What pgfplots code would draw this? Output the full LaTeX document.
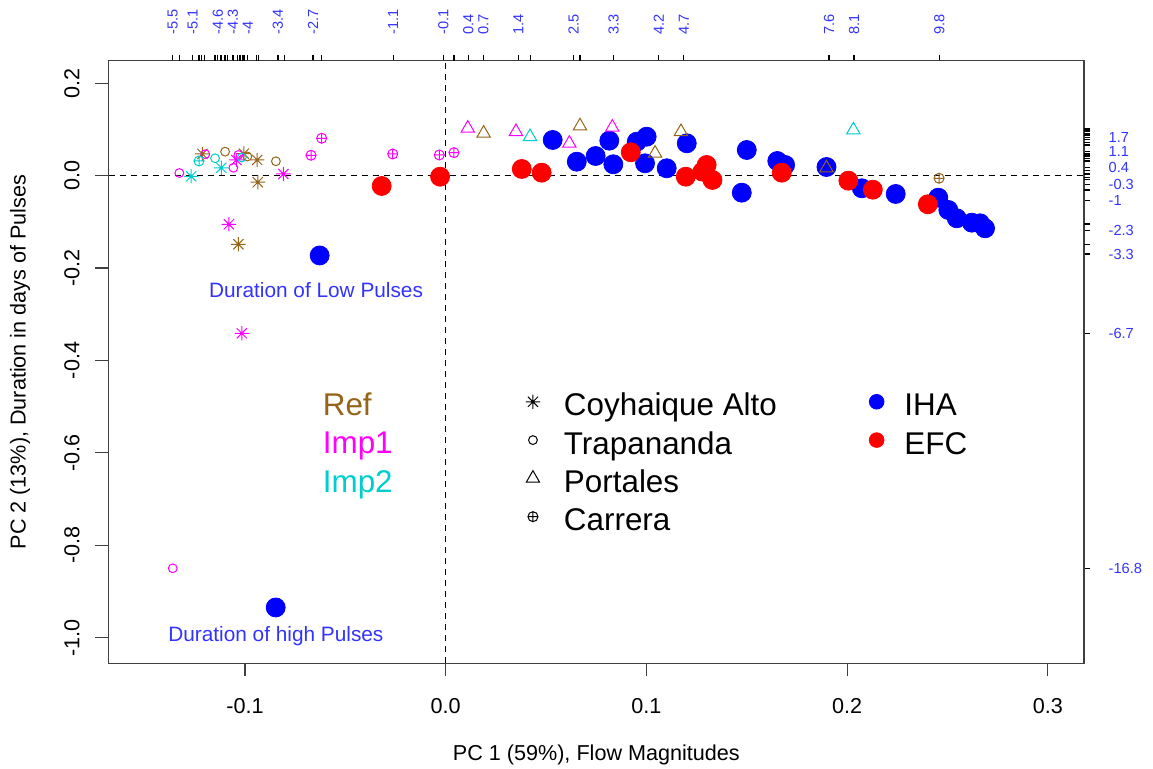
\documentclass[border=0pt]{standalone}
\usepackage{fontspec}
\setmainfont{Liberation Sans}
\usepackage{pgfplots}
\pgfplotsset{compat=1.18}

\definecolor{refc}{RGB}{150,100,25}
\definecolor{imponec}{RGB}{255,0,255}
\definecolor{imptwoc}{RGB}{0,205,205}
\definecolor{annc}{RGB}{51,51,255}
\definecolor{framec}{RGB}{64,64,64}

% asterisk made of a plus and a cross (eight arms)
\pgfdeclareplotmark{rast}{%
  \pgfpathmoveto{\pgfqpoint{-\pgfplotmarksize}{0pt}}%
  \pgfpathlineto{\pgfqpoint{\pgfplotmarksize}{0pt}}%
  \pgfpathmoveto{\pgfqpoint{0pt}{-\pgfplotmarksize}}%
  \pgfpathlineto{\pgfqpoint{0pt}{\pgfplotmarksize}}%
  \pgfpathmoveto{\pgfqpoint{-0.7071\pgfplotmarksize}{-0.7071\pgfplotmarksize}}%
  \pgfpathlineto{\pgfqpoint{0.7071\pgfplotmarksize}{0.7071\pgfplotmarksize}}%
  \pgfpathmoveto{\pgfqpoint{-0.7071\pgfplotmarksize}{0.7071\pgfplotmarksize}}%
  \pgfpathlineto{\pgfqpoint{0.7071\pgfplotmarksize}{-0.7071\pgfplotmarksize}}%
  \pgfusepathqstroke}

\pgfplotsset{
  astk/.style={only marks, mark=rast, mark size=3.6pt, line width=0.5pt, forget plot},
  circ/.style={only marks, mark=o, mark size=2.2pt, line width=0.5pt, forget plot},
  tria/.style={only marks, mark=triangle, mark size=3.85pt, line width=0.5pt, forget plot},
  cplus/.style={only marks, mark=oplus, mark size=2.5pt, line width=0.5pt, forget plot},
  dot/.style={only marks, mark=*, mark size=4.75pt, forget plot},
}

\begin{document}
\begin{tikzpicture}
\useasboundingbox (0,0) rectangle (576.5pt,384.5pt);

% ---------------- main biplot ----------------
\begin{axis}[
  at={(54.35pt,52.85pt)}, anchor=south west,
  scale only axis, width=487.65pt, height=301.3pt,
  xmin=-0.1679, xmax=0.3180, ymin=-1.0554, ymax=0.2489,
  clip=false,
  axis line style={framec, line width=0.6pt},
  xtick={-0.1,0,0.1,0.2,0.3},
  xticklabels={-0.1,0.0,0.1,0.2,0.3},
  ytick={-1,-0.8,-0.6,-0.4,-0.2,0,0.2},
  yticklabels={-1.0,-0.8,-0.6,-0.4,-0.2,0.0,0.2},
  xtick pos=bottom, ytick pos=left,
  tick align=outside, major tick length=6.6pt,
  tick style={framec, line width=0.6pt},
  tick label style={font=\fontsize{10.8}{13}\selectfont, inner sep=0pt},
  xticklabel style={anchor=north}, xticklabel shift=10.9pt,
  yticklabel style={rotate=90, anchor=south}, yticklabel shift=7.75pt,
  xlabel={PC 1 (59\%), Flow Magnitudes},
  ylabel={PC 2 (13\%), Duration in days of Pulses},
  label style={font=\fontsize{10.8}{13}\selectfont},
  xlabel style={at={(axis description cs:0.5,-0.1527)}, anchor=center},
  ylabel style={at={(axis description cs:-0.0909,0.5)}, anchor=center},
  legend style={at={(axis description cs:0.4268,0.4572)}, anchor=north west,
    draw=none, fill=none, inner sep=0pt, outer sep=0pt,
    font=\fontsize{15.7}{19}\selectfont, row sep=5.15pt, column sep=0pt,
    nodes={inner sep=0pt, text height=14pt, text depth=0pt}},
  legend cell align=left,
  legend image code/.code={\path[draw=none, fill=none] (-4pt,-1pt) rectangle (15.5pt,1pt);
    \draw[#1] plot coordinates {(0pt,0pt)};},
]

% IHA variables
\addplot[dot, blue] coordinates {
  (-0.0628,-0.1727) (-0.0847,-0.9346)
  (0.0533,0.0773) (0.0653,0.0303) (0.0747,0.0426) (0.0815,0.0758)
  (0.0835,0.0247) (0.0952,0.0736) (0.1001,0.0844) (0.0993,0.0268)
  (0.1101,0.0160) (0.1201,0.0701) (0.1500,0.0556) (0.1475,-0.0368)
  (0.1652,0.0318) (0.1691,0.0232) (0.1897,0.0188) (0.2073,-0.0273)
  (0.2242,-0.0396) (0.2454,-0.0476) (0.2504,-0.0742) (0.2546,-0.0922)
  (0.2621,-0.1017) (0.2662,-0.1030) (0.2687,-0.1139)
};
% EFC variables
\addplot[dot, red] coordinates {
  (-0.0319,-0.0223) (-0.0028,-0.0022) (0.0379,0.0145) (0.0478,0.0065)
  (0.0922,0.0506) (0.1196,-0.0022) (0.1300,0.0232) (0.1279,0.0087)
  (0.1329,-0.0093) (0.1674,0.0065) (0.2006,-0.0108) (0.2128,-0.0303)
  (0.2402,-0.0619)
};

% Ref scenario
\addplot[astk, refc] coordinates {
  (-0.1212,0.0470) (-0.1006,0.0476) (-0.0939,0.0340) (-0.0936,-0.0141)
  (-0.1033,-0.1485)};
\addplot[circ, refc] coordinates {
  (-0.1099,0.0519) (-0.0988,0.0416) (-0.0846,0.0312)};
\addplot[tria, refc] coordinates {
  (0.0189,0.0918) (0.0669,0.1076) (0.1043,0.0485) (0.1172,0.0952)
  (0.1897,0.0167)};
\addplot[cplus, refc] coordinates {(0.2458,-0.0056)};

% Imp1 scenario
\addplot[astk, imponec] coordinates {
  (-0.1043,0.0340) (-0.0809,0.0037) (-0.1080,-0.1052) (-0.1016,-0.3411)};
\addplot[circ, imponec] coordinates {
  (-0.1327,0.0058) (-0.1198,0.0465) (-0.1058,0.0171) (-0.1033,0.0448)
  (-0.1360,-0.8498)};
\addplot[tria, imponec] coordinates {
  (0.0110,0.1026) (0.0350,0.0952) (0.0616,0.0701) (0.0830,0.1048)};
\addplot[cplus, imponec] coordinates {
  (-0.0671,0.0442) (-0.0618,0.0810) (-0.0264,0.0470) (-0.0032,0.0448)
  (0.0041,0.0498)};

% Imp2 scenario
\addplot[astk, imptwoc] coordinates {(-0.1268,-0.0013) (-0.1118,0.0171)};
\addplot[circ, imptwoc] coordinates {(-0.1149,0.0377) (-0.1016,0.0394)};
\addplot[tria, imptwoc] coordinates {(0.0420,0.0844) (0.2031,0.0989)};
\addplot[cplus, imptwoc] coordinates {(-0.1229,0.0318)};

% reference lines through the origin
\addplot[black, line width=0.55pt, dash pattern=on 3.3pt off 2.2pt, forget plot]
  coordinates {(0,-1.0554) (0,0.2489)};
\addplot[black, line width=0.55pt, dash pattern=on 3.3pt off 2.2pt, forget plot]
  coordinates {(-0.1679,0) (0.3180,0)};

% site legend
\addlegendimage{only marks, mark=rast, mark size=3.6pt, line width=0.5pt, black}
\addlegendentry{Coyhaique Alto}
\addlegendimage{only marks, mark=o, mark size=2.2pt, line width=0.5pt, black}
\addlegendentry{Trapananda}
\addlegendimage{only marks, mark=triangle, mark size=3.85pt, line width=0.5pt, black}
\addlegendentry{Portales}
\addlegendimage{only marks, mark=oplus, mark size=2.5pt, line width=0.5pt, black}
\addlegendentry{Carrera}

% scenario names
\node[anchor=base west, text=refc, font=\fontsize{15.7}{19}\selectfont, inner sep=0pt]
  at (axis cs:-0.0614,-0.5197) {Ref};
\node[anchor=base west, text=imponec, font=\fontsize{15.7}{19}\selectfont, inner sep=0pt]
  at (axis cs:-0.0614,-0.6024) {Imp1};
\node[anchor=base west, text=imptwoc, font=\fontsize{15.7}{19}\selectfont, inner sep=0pt]
  at (axis cs:-0.0614,-0.6853) {Imp2};

% variable annotations
\node[anchor=base, text=annc, font=\fontsize{10.4}{12}\selectfont, inner sep=0pt]
  at (axis cs:-0.0646,-0.2647) {Duration of Low Pulses};
\node[anchor=base, text=annc, font=\fontsize{10.4}{12}\selectfont, inner sep=0pt]
  at (axis cs:-0.0846,-1.0087) {Duration of high Pulses};
\end{axis}

% ---------------- score axes (top and right) ----------------
\begin{axis}[
  at={(54.35pt,52.85pt)}, anchor=south west,
  scale only axis, width=487.65pt, height=301.3pt,
  xmin=-6.778, xmax=12.689, ymin=-20.88, ymax=5.004,
  axis x line=top, axis y line=right,
  axis line style={-, framec, line width=0.6pt},
  tick align=outside, major tick length=3pt,
  tick style={black, line width=0.6pt},
  xtick={-5.5,-5.1,-4.6,-4.3,-4,-3.4,-2.7,-1.1,-0.1,0.4,0.7,1.4,2.5,3.3,4.2,4.7,7.6,8.1,9.8},
  xticklabels={-5.5,-5.1,-4.6,-4.3,-4,-3.4,-2.7,-1.1,-0.1,0.4,0.7,1.4,2.5,3.3,4.2,4.7,7.6,8.1,9.8},
  extra x ticks={-5.37,-4.976,-4.922,-4.862,-4.657,-4.537,-4.457,-4.403,-4.291,-4.204,-4.158,-4.112,-4.078,-3.824,-3.784,-3.273,-2.527,0.114,1.645,2.629},
  extra x tick labels={},
  ytick={-16.8,-6.7,-3.3,-2.3,-1,-0.3,0.4,1.1,1.7},
  yticklabels={-16.8,-6.7,-3.3,-2.3,-1,-0.3,0.4,1.1,1.7},
  extra y ticks={2.10,2.03,1.96,1.88,1.81,1.63,1.48,1.38,1.03,0.95,0.88,0.80,0.72,0.67,0.28,0.14,0.0,-0.09,-0.55,-2.01,-2.88},
  extra y tick labels={},
  tick label style={font=\fontsize{7.3}{8}\selectfont, text=annc, inner sep=0pt},
  xticklabel style={rotate=90, anchor=west}, xticklabel shift=9.85pt,
  yticklabel style={anchor=west}, yticklabel shift=9.15pt,
  legend style={at={(axis description cs:0.7792,0.4572)}, anchor=north west,
    draw=none, fill=none, inner sep=0pt, outer sep=0pt,
    font=\fontsize{15.7}{19}\selectfont, row sep=5.15pt, column sep=0pt,
    nodes={inner sep=0pt, text height=14pt, text depth=0pt}},
  legend cell align=left,
  legend image code/.code={\path[draw=none, fill=none] (-4pt,-1pt) rectangle (13.9pt,1pt);
    \draw[#1] plot coordinates {(0pt,0pt)};},
]
\addlegendimage{only marks, mark=*, mark size=3.67pt, blue}
\addlegendentry{IHA}
\addlegendimage{only marks, mark=*, mark size=3.67pt, red}
\addlegendentry{EFC}
\end{axis}
\end{tikzpicture}
\end{document}
